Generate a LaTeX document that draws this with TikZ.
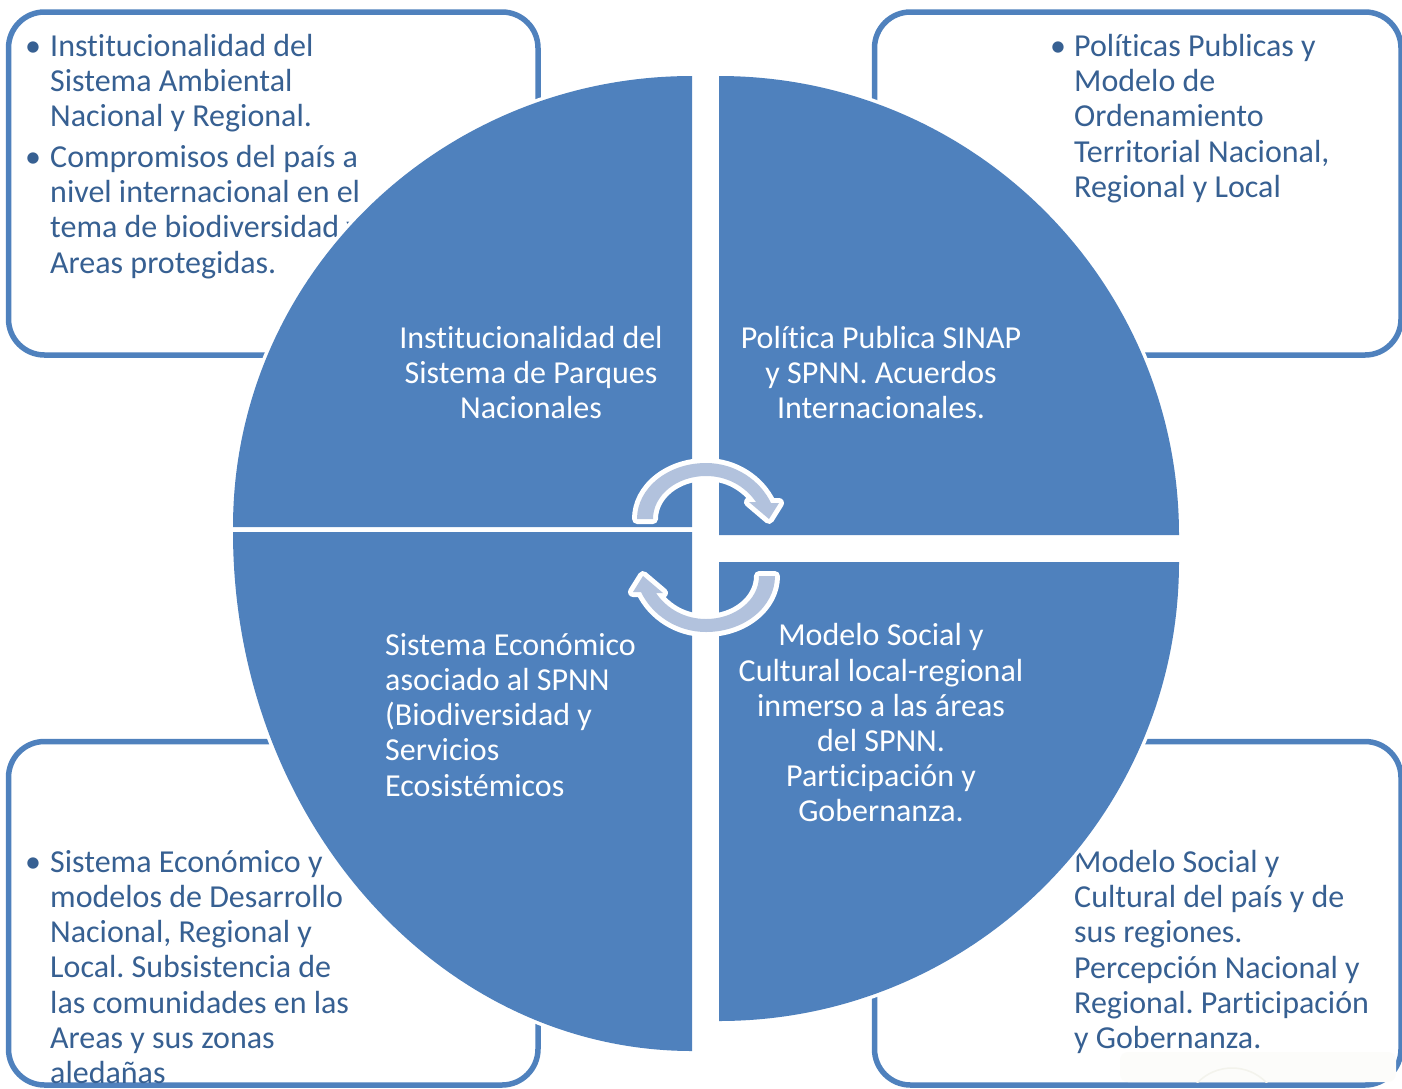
\documentclass[tikz,border=0pt]{standalone}
\usepackage{fontspec}
\setmainfont{Carlito}[Ligatures=CommonOff]
\definecolor{frameblue}{HTML}{4F81BD}
\definecolor{boxtext}{HTML}{376092}
\definecolor{arrowfill}{HTML}{B2C2DD}
\definecolor{faintmark}{HTML}{FCFCFA}
\definecolor{faintseal}{HTML}{F3F3EC}
\newcommand\firstline{\rule{0pt}{22pt}}
\newcommand\diagramfont{\fontsize{32}{35.2}\selectfont\frenchspacing}
\tikzset{
  panel/.style={draw=frameblue,line width=5.5pt,rounded corners=36pt,fill=white},
  quarter/.style={fill=frameblue,draw=none},
  halo/.style={draw=white,line width=7pt},
  paneltext/.style={font=\diagramfont,text=boxtext,anchor=north west,inner sep=0pt,align=left},
  bulletmark/.style={font=\diagramfont,text=boxtext,anchor=base,inner sep=0pt},
  wheeltext/.style={font=\diagramfont,text=white,anchor=north,inner sep=0pt,align=center},
  wheeltextleft/.style={font=\diagramfont,text=white,anchor=north west,inner sep=0pt,align=left},
  cyclearrow/.style={fill=arrowfill,preaction={draw=white,line width=10pt,line join=round}}
}
\begin{document}
\begin{tikzpicture}[x=1pt,y=-1pt]
\useasboundingbox (0,0) rectangle (1402,1088);
\begin{scope}
\clip (0,0) rectangle (1402,1088);
% outer panels
\draw[panel] (8.5,12) rectangle (538,355);
\draw[panel] (874.5,12) rectangle (1401,355);
\draw[panel] (8.5,741.5) rectangle (538,1085);
\draw[panel] (874.5,741.5) rectangle (1401,1085);
% faint watermark at the lower right
\fill[faintmark,rounded corners=8pt] (1120,1052) rectangle (1396,1082);
\begin{scope}
\clip (1120,1052) rectangle (1396,1082);
\draw[faintseal,line width=1.5pt] (1232,1116) circle[radius=48];
\end{scope}
% panel text
\node[bulletmark] (b1) at (33,56) {•};
\node[paneltext] (t1) at (50,34) {\firstline Institucionalidad del\\Sistema Ambiental\\Nacional y Regional.};
\node[bulletmark] (b2) at (33,167) {•};
\node[paneltext] (t2) at (50,145) {\firstline Compromisos del país a\\nivel internacional en el\\tema de biodiversidad y\\Areas protegidas.};
\node[bulletmark] (b3) at (1058,56) {•};
\node[paneltext] (t3) at (1074,34) {\firstline Políticas Publicas y\\Modelo de\\Ordenamiento\\Territorial Nacional,\\Regional y Local};
\node[bulletmark] (b4) at (33,872) {•};
\node[paneltext] (t4) at (50,850) {\firstline Sistema Económico y\\modelos de Desarrollo\\Nacional, Regional y\\Local. Subsistencia de\\las comunidades en las\\Areas y sus zonas\\aledañas};
\node[paneltext] (t5) at (1074,850) {\firstline Modelo Social y\\Cultural del país y de\\sus regiones.\\Percepción Nacional y\\Regional. Participación\\y Gobernanza.};
% white rim round the wheel
\draw[halo] (233,527) arc[start angle=180,end angle=90,x radius=459,y radius=-451];
\draw[halo] (719,76) arc[start angle=90,end angle=0,x radius=460,y radius=-459];
\draw[halo] (1179,562) arc[start angle=0,end angle=-90,x radius=460,y radius=-459];
\draw[halo] (692,1051) arc[start angle=-90,end angle=-180,x radius=459,y radius=-519];
% wheel quarters
\fill[quarter] (692,527) -- (233,527) arc[start angle=180,end angle=90,x radius=459,y radius=-451] -- cycle;
\fill[quarter] (719,535) -- (719,76) arc[start angle=90,end angle=0,x radius=460,y radius=-459] -- cycle;
\fill[quarter] (719,562) -- (1179,562) arc[start angle=0,end angle=-90,x radius=460,y radius=-459] -- cycle;
\fill[quarter] (692,532) -- (692,1051) arc[start angle=-90,end angle=-180,x radius=459,y radius=-519] -- cycle;
% wheel text
\node[wheeltext] (c1) at (531,326) {\firstline Institucionalidad del\\Sistema de Parques\\Nacionales};
\node[wheeltext] (c2) at (881,326) {\firstline Política Publica SINAP\\y SPNN. Acuerdos\\Internacionales.};
\node[wheeltextleft] (c3) at (385,633) {\firstline Sistema Económico\\asociado al SPNN\\(Biodiversidad y\\Servicios\\Ecosistémicos};
\node[wheeltext] (c4) at (881,623.5) {\firstline Modelo Social y\\Cultural local-regional\\inmerso a las áreas\\del SPNN.\\Participación y\\Gobernanza.};
% cycle arrows
\fill[cyclearrow] (637,519) .. controls (637,488) and (668,463) .. (706,463)
  .. controls (735,463) and (760,480) .. (771,503) -- (779,503) -- (769,519) -- (749,502) -- (756,502)
  .. controls (745,486) and (727,476) .. (706,476) .. controls (677,476) and (653,495) .. (653,519) -- cycle;
\begin{scope}[rotate around={180:(706,547.5)}]
\fill[cyclearrow] (637,519) .. controls (637,488) and (668,463) .. (706,463)
  .. controls (735,463) and (760,480) .. (771,503) -- (779,503) -- (769,519) -- (749,502) -- (756,502)
  .. controls (745,486) and (727,476) .. (706,476) .. controls (677,476) and (653,495) .. (653,519) -- cycle;
\end{scope}
\end{scope}
\end{tikzpicture}
\end{document}
